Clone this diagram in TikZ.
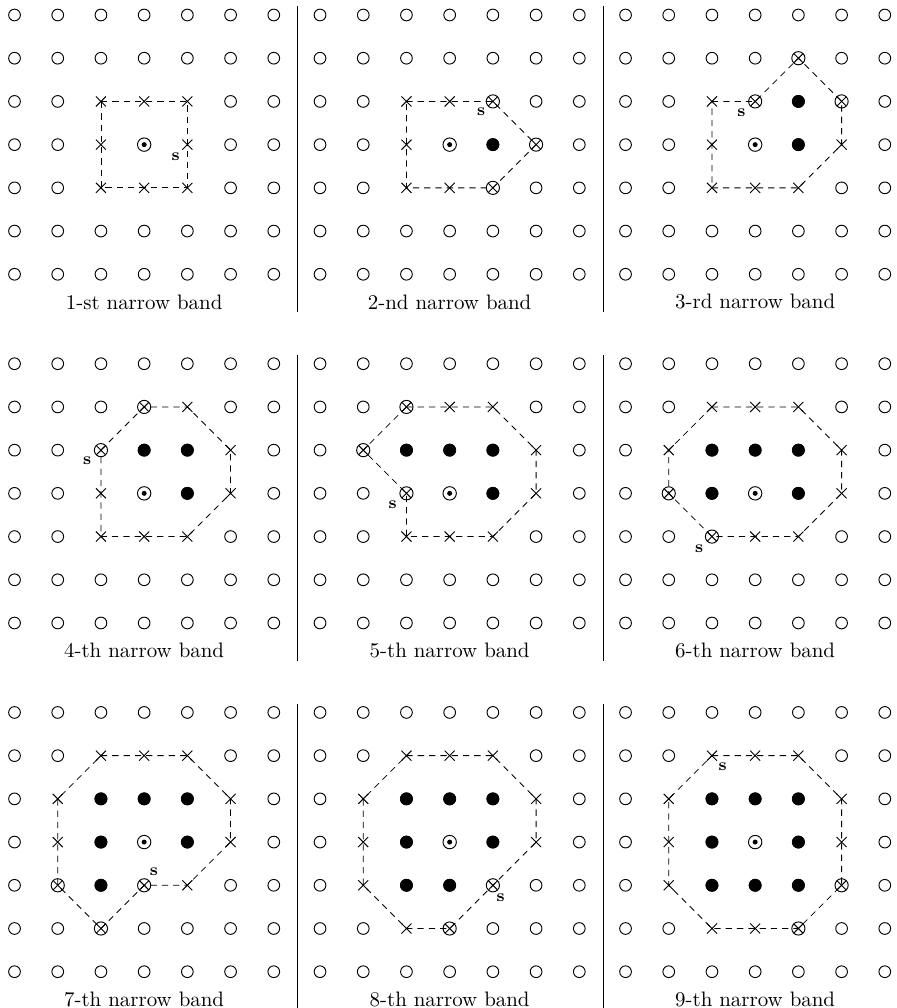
\documentclass[tikz,border=0pt]{standalone}
\usetikzlibrary{positioning}

% one 7x7 grid of the level-set picture, nodes named #1-i-j
\newcommand{\bandgrid}[4]{%
  \begin{scope}[shift={(#2,#3)}]
    \foreach \i in {0,...,6}
      \foreach \j in {0,...,6}
        \node[ring] (#1-\i-\j) at (\i,-\j) {};
    \node[bandlabel] (#1-lbl) at (3,-6.64) {#4};
  \end{scope}}

\begin{document}
\begin{tikzpicture}[x=0.726cm,y=0.726cm,
  ring/.style={circle,draw,line width=0.45pt,minimum size=5.6pt,inner sep=0pt},
  filled/.style={circle,fill=black,minimum size=6.2pt,inner sep=0pt},
  centre/.style={circle,draw,fill=white,line width=0.45pt,minimum size=6.4pt,inner sep=0pt,
    path picture={\fill[black] (path picture bounding box.center) circle (1.2pt);}},
  otimes/.style={circle,draw,fill=white,line width=0.45pt,minimum size=6.3pt,inner sep=0pt,
    path picture={\draw[line width=0.45pt] (path picture bounding box.south west) -- (path picture bounding box.north east)
      (path picture bounding box.north west) -- (path picture bounding box.south east);}},
  xmark/.style={circle,fill=white,minimum size=7.2pt,inner sep=0pt,
    path picture={\draw[line width=0.45pt] (path picture bounding box.center) +(-2.4pt,-2.4pt) -- +(2.4pt,2.4pt)
      (path picture bounding box.center) +(-2.4pt,2.4pt) -- +(2.4pt,-2.4pt);}},
  bandline/.style={black,line width=0.4pt,dash pattern=on 3pt off 2.4pt},
  sepline/.style={black,line width=0.5pt},
  slabel/.style={font=\footnotesize\bfseries,inner sep=0pt},
  bandlabel/.style={inner sep=0pt}]
  \useasboundingbox (-0.336,0.347) rectangle (20.40,-22.98);

  % separators
  \draw[sepline] (6.55,0.2) -- (6.55,-6.87);
  \draw[sepline] (13.62,0.2) -- (13.62,-6.87);
  \draw[sepline] (6.55,-7.87) -- (6.55,-14.94);
  \draw[sepline] (13.62,-7.87) -- (13.62,-14.94);
  \draw[sepline] (6.55,-15.94) -- (6.55,-23.01);
  \draw[sepline] (13.62,-15.94) -- (13.62,-23.01);

  % 1-st band
  \bandgrid{b1}{0}{0}{1-st narrow band}
  \foreach \p in {2-2,3-2,4-2,2-3,4-3,2-4,3-4,4-4} \node[xmark] (b1-\p-x) at (b1-\p) {};
  \node[centre] (b1-c) at (b1-3-3) {};
  \draw[bandline] (b1-2-2.center) -- (b1-4-2.center) -- (b1-4-4.center) -- (b1-2-4.center) -- cycle;
  \node[slabel,below left=3.55pt and 3.5pt of b1-4-3.center] (b1-s) {s};

  % 2-nd band
  \bandgrid{b2}{7.07}{0}{2-nd narrow band}
  \foreach \p in {2-2,3-2,2-3,2-4,3-4} \node[xmark] (b2-\p-x) at (b2-\p) {};
  \foreach \p in {4-2,5-3,4-4} \node[otimes] (b2-\p-o) at (b2-\p) {};
  \foreach \p in {4-3} \node[filled] (b2-\p-f) at (b2-\p) {};
  \node[centre] (b2-c) at (b2-3-3) {};
  \draw[bandline] (b2-2-2.center) -- (b2-4-2.center) -- (b2-5-3.center) -- (b2-4-4.center) -- (b2-2-4.center) -- cycle;
  \node[slabel,below left=3.05pt and 3.5pt of b2-4-2.center] (b2-s) {s};

  % 3-rd band
  \bandgrid{b3}{14.14}{0}{3-rd narrow band}
  \foreach \p in {2-2,2-3,2-4,3-4,4-4,5-3} \node[xmark] (b3-\p-x) at (b3-\p) {};
  \foreach \p in {3-2,4-1,5-2} \node[otimes] (b3-\p-o) at (b3-\p) {};
  \foreach \p in {4-2,4-3} \node[filled] (b3-\p-f) at (b3-\p) {};
  \node[centre] (b3-c) at (b3-3-3) {};
  \draw[bandline] (b3-2-2.center) -- (b3-3-2.center) -- (b3-4-1.center) -- (b3-5-2.center) -- (b3-5-3.center)
    -- (b3-4-4.center) -- (b3-2-4.center) -- cycle;
  \node[slabel,below left=3.55pt and 4.4pt of b3-3-2.center] (b3-s) {s};

  % 4-th band
  \bandgrid{b4}{0}{-8.07}{4-th narrow band}
  \foreach \p in {4-1,5-2,5-3,2-3,2-4,3-4,4-4} \node[xmark] (b4-\p-x) at (b4-\p) {};
  \foreach \p in {3-1,2-2} \node[otimes] (b4-\p-o) at (b4-\p) {};
  \foreach \p in {3-2,4-2,4-3} \node[filled] (b4-\p-f) at (b4-\p) {};
  \node[centre] (b4-c) at (b4-3-3) {};
  \draw[bandline] (b4-2-2.center) -- (b4-3-1.center) -- (b4-4-1.center) -- (b4-5-2.center) -- (b4-5-3.center)
    -- (b4-4-4.center) -- (b4-2-4.center) -- cycle;
  \node[slabel,below left=3.05pt and 4.4pt of b4-2-2.center] (b4-s) {s};

  % 5-th band
  \bandgrid{b5}{7.07}{-8.07}{5-th narrow band}
  \foreach \p in {3-1,4-1,5-2,5-3,2-4,3-4,4-4} \node[xmark] (b5-\p-x) at (b5-\p) {};
  \foreach \p in {2-1,1-2,2-3} \node[otimes] (b5-\p-o) at (b5-\p) {};
  \foreach \p in {2-2,3-2,4-2,4-3} \node[filled] (b5-\p-f) at (b5-\p) {};
  \node[centre] (b5-c) at (b5-3-3) {};
  \draw[bandline] (b5-2-1.center) -- (b5-4-1.center) -- (b5-5-2.center) -- (b5-5-3.center) -- (b5-4-4.center)
    -- (b5-2-4.center) -- (b5-2-3.center) -- (b5-1-2.center) -- cycle;
  \node[slabel,below left=3.55pt and 4.4pt of b5-2-3.center] (b5-s) {s};

  % 6-th band
  \bandgrid{b6}{14.14}{-8.07}{6-th narrow band}
  \foreach \p in {2-1,3-1,4-1,1-2,5-2,5-3,3-4,4-4} \node[xmark] (b6-\p-x) at (b6-\p) {};
  \foreach \p in {1-3,2-4} \node[otimes] (b6-\p-o) at (b6-\p) {};
  \foreach \p in {2-2,3-2,4-2,2-3,4-3} \node[filled] (b6-\p-f) at (b6-\p) {};
  \node[centre] (b6-c) at (b6-3-3) {};
  \draw[bandline] (b6-2-1.center) -- (b6-4-1.center) -- (b6-5-2.center) -- (b6-5-3.center) -- (b6-4-4.center)
    -- (b6-2-4.center) -- (b6-1-3.center) -- (b6-1-2.center) -- cycle;
  \node[slabel,below left=3.55pt and 4.0pt of b6-2-4.center] (b6-s) {s};

  % 7-th band
  \bandgrid{b7}{0}{-16.14}{7-th narrow band}
  \foreach \p in {2-1,3-1,4-1,1-2,5-2,1-3,5-3,4-4} \node[xmark] (b7-\p-x) at (b7-\p) {};
  \foreach \p in {1-4,3-4,2-5} \node[otimes] (b7-\p-o) at (b7-\p) {};
  \foreach \p in {2-2,3-2,4-2,2-3,4-3,2-4} \node[filled] (b7-\p-f) at (b7-\p) {};
  \node[centre] (b7-c) at (b7-3-3) {};
  \draw[bandline] (b7-2-1.center) -- (b7-4-1.center) -- (b7-5-2.center) -- (b7-5-3.center) -- (b7-4-4.center)
    -- (b7-3-4.center) -- (b7-2-5.center) -- (b7-1-4.center) -- (b7-1-2.center) -- cycle;
  \node[slabel,above right=4.45pt and 2.5pt of b7-3-4.center] (b7-s) {s};

  % 8-th band
  \bandgrid{b8}{7.07}{-16.14}{8-th narrow band}
  \foreach \p in {2-1,3-1,4-1,1-2,5-2,1-3,5-3,1-4,2-5} \node[xmark] (b8-\p-x) at (b8-\p) {};
  \foreach \p in {4-4,3-5} \node[otimes] (b8-\p-o) at (b8-\p) {};
  \foreach \p in {2-2,3-2,4-2,2-3,4-3,2-4,3-4} \node[filled] (b8-\p-f) at (b8-\p) {};
  \node[centre] (b8-c) at (b8-3-3) {};
  \draw[bandline] (b8-2-1.center) -- (b8-4-1.center) -- (b8-5-2.center) -- (b8-5-3.center) -- (b8-4-4.center)
    -- (b8-3-5.center) -- (b8-2-5.center) -- (b8-1-4.center) -- (b8-1-2.center) -- cycle;
  \node[slabel,below right=3.95pt and 1.6pt of b8-4-4.center] (b8-s) {s};

  % 9-th band
  \bandgrid{b9}{14.14}{-16.14}{9-th narrow band}
  \foreach \p in {2-1,3-1,4-1,1-2,5-2,1-3,5-3,1-4,2-5,3-5} \node[xmark] (b9-\p-x) at (b9-\p) {};
  \foreach \p in {5-4,4-5} \node[otimes] (b9-\p-o) at (b9-\p) {};
  \foreach \p in {2-2,3-2,4-2,2-3,4-3,2-4,3-4,4-4} \node[filled] (b9-\p-f) at (b9-\p) {};
  \node[centre] (b9-c) at (b9-3-3) {};
  \draw[bandline] (b9-2-1.center) -- (b9-4-1.center) -- (b9-5-2.center) -- (b9-5-4.center) -- (b9-4-5.center)
    -- (b9-2-5.center) -- (b9-1-4.center) -- (b9-1-2.center) -- cycle;
  \node[slabel,below right=3.05pt and 3pt of b9-2-1.center] (b9-s) {s};
\end{tikzpicture}
\end{document}
